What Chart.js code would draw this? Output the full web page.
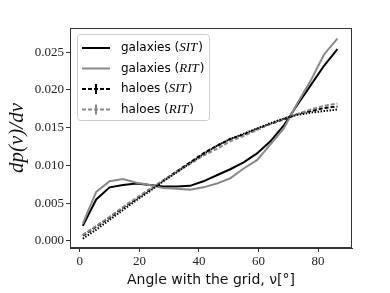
<!DOCTYPE html>
<html>
<head>
<meta charset="utf-8">
<script src="https://cdn.jsdelivr.net/npm/chart.js@4/dist/chart.umd.min.js"></script>
<style>
  html, body { margin: 0; padding: 0; background: #fff; }
</style>
</head>
<body>
<canvas id="chart" width="390" height="293"></canvas>
<script>
// bin centres (degrees)
const angles = [1, 5.5, 10, 14.5, 19, 23.5, 28, 32.5, 37, 41.5, 46, 50.5, 55, 59.5, 64, 68.5, 73, 77.5, 82, 86.5];

const galaxiesSIT = [0.0020, 0.0055, 0.0071, 0.0074, 0.0076, 0.0074, 0.0072, 0.0072, 0.0073, 0.0079, 0.0087, 0.0095, 0.0104, 0.0116, 0.0132, 0.0153, 0.0180, 0.0206, 0.0232, 0.0254];
const galaxiesRIT = [0.0023, 0.0065, 0.0079, 0.0082, 0.0077, 0.0074, 0.0070, 0.0069, 0.0068, 0.0071, 0.0076, 0.0083, 0.0096, 0.0107, 0.0128, 0.0149, 0.0182, 0.0212, 0.0247, 0.0268];
const haloesSIT = [0.0007, 0.0019, 0.0031, 0.0044, 0.0056, 0.0068, 0.0080, 0.0092, 0.0104, 0.0116, 0.0126, 0.0135, 0.0141, 0.0148, 0.0155, 0.0161, 0.0168, 0.0172, 0.0176, 0.0178];
const haloesRIT = [0.0008, 0.0020, 0.0032, 0.0045, 0.0057, 0.0069, 0.0080, 0.0091, 0.0102, 0.0113, 0.0122, 0.0132, 0.0139, 0.0147, 0.0155, 0.0162, 0.0168, 0.0174, 0.0179, 0.0182];
const haloesFit = [0.0003, 0.0015, 0.0028, 0.0041, 0.0054, 0.0066, 0.0079, 0.0091, 0.0103, 0.0115, 0.0126, 0.0135, 0.0142, 0.0149, 0.0156, 0.0162, 0.0167, 0.0170, 0.0172, 0.0174];

const xTicks = [0, 20, 40, 60, 80];
const yTicks = [0, 0.005, 0.010, 0.015, 0.020, 0.025];

const legendItems = [
  { name: 'galaxies', tag: 'SIT', color: '#000', dash: [], cross: false },
  { name: 'galaxies', tag: 'RIT', color: '#888', dash: [], cross: false },
  { name: 'haloes', tag: 'SIT', color: '#000', dash: [4, 2], cross: true },
  { name: 'haloes', tag: 'RIT', color: '#888', dash: [4, 2], cross: true }
];

const pts = arr => arr.map((v, i) => ({ x: angles[i], y: v }));

const SANS = 'DejaVu Sans';
const SERIF = 'Liberation Serif';

// box round the plot + legend like matplotlib
const framePlugin = {
  id: 'frame',
  afterDraw(chart) {
    const { ctx, chartArea: a } = chart;
    ctx.save();
    ctx.strokeStyle = '#333';
    ctx.lineWidth = 1;
    ctx.strokeRect(a.left + 0.5, a.top + 0.5, a.right - a.left - 1, a.bottom - a.top - 1);

    // legend
    const bx = 77, by = 34, bw = 132, bh = 86, r = 3;
    ctx.fillStyle = 'rgba(255,255,255,0.85)';
    ctx.strokeStyle = '#ccc';
    ctx.beginPath();
    ctx.roundRect(bx + 0.5, by + 0.5, bw, bh, r);
    ctx.fill();
    ctx.stroke();

    legendItems.forEach((it, i) => {
      const y = 48 + i * 20.5;
      ctx.strokeStyle = it.color;
      ctx.lineWidth = 2;
      ctx.setLineDash(it.dash);
      ctx.beginPath();
      ctx.moveTo(82, y);
      ctx.lineTo(110, y);
      ctx.stroke();
      ctx.setLineDash([]);
      if (it.cross) {
        ctx.lineWidth = 2;
        ctx.beginPath();
        ctx.moveTo(96, y - 5);
        ctx.lineTo(96, y + 5);
        ctx.stroke();
      }
      ctx.fillStyle = '#000';
      ctx.textBaseline = 'middle';
      ctx.textAlign = 'left';
      let x = 121;
      ctx.font = '12px "' + SANS + '"';
      const s1 = it.name + ' (';
      ctx.fillText(s1, x, y);
      x += ctx.measureText(s1).width;
      ctx.font = 'italic 13px "' + SERIF + '"';
      ctx.fillText(it.tag, x, y);
      x += ctx.measureText(it.tag).width + 1;
      ctx.font = '12px "' + SANS + '"';
      ctx.fillText(')', x, y);
    });
    ctx.restore();
  }
};

new Chart(document.getElementById('chart'), {
  type: 'line',
  data: {
    datasets: [
      { data: pts(haloesFit), borderColor: '#000', borderWidth: 2, borderDash: [1.5, 1.5], pointRadius: 0 },
      { data: pts(haloesRIT), borderColor: '#888', borderWidth: 2, borderDash: [4, 2], pointRadius: 0 },
      { data: pts(haloesSIT), borderColor: '#000', borderWidth: 2, borderDash: [4, 2], pointRadius: 0 },
      { data: pts(galaxiesRIT), borderColor: '#888', borderWidth: 2, pointRadius: 0 },
      { data: pts(galaxiesSIT), borderColor: '#000', borderWidth: 2, pointRadius: 0 }
    ]
  },
  options: {
    responsive: false,
    devicePixelRatio: 1,
    animation: false,
    tension: 0,
    layout: { padding: { left: 0, right: 38, top: 28, bottom: 0 } },
    plugins: { legend: { display: false }, tooltip: { enabled: false } },
    scales: {
      x: {
        type: 'linear',
        min: -3.3,
        max: 91.4,
        afterBuildTicks: s => { s.ticks = xTicks.map(v => ({ value: v })); },
        afterFit: s => { s.height = 45; },
        grid: { drawOnChartArea: false, drawTicks: true, tickLength: 4, color: '#333' },
        border: { display: true, color: '#333' },
        ticks: { color: '#222', padding: 2, maxRotation: 0, font: { family: SERIF, size: 13 } },
        title: { display: true, text: 'Angle with the grid, ν[°]', color: '#111', font: { family: SANS, size: 14 }, padding: { top: 0, bottom: 4 } }
      },
      y: {
        type: 'linear',
        min: -0.00093,
        max: 0.0282,
        afterBuildTicks: s => { s.ticks = yTicks.map(v => ({ value: v })); },
        afterFit: s => { s.width = 70; },
        grid: { drawOnChartArea: false, drawTicks: true, tickLength: 4, color: '#333' },
        border: { display: true, color: '#333' },
        ticks: { color: '#222', padding: 2, font: { family: SERIF, size: 13 }, callback: v => v.toFixed(3) },
        title: { display: true, text: 'dp(ν)/dν', color: '#111', font: { family: SERIF, style: 'italic', size: 21 }, padding: { top: 5, bottom: 0 } }
      }
    }
  },
  plugins: [framePlugin]
});
</script>
</body>
</html>
